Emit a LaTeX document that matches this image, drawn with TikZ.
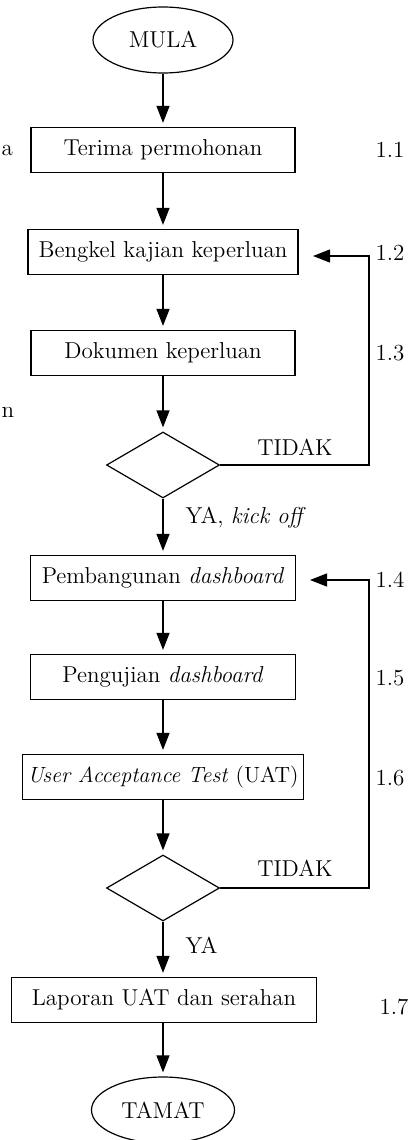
\documentclass[tikz,border=0pt]{standalone}
\usetikzlibrary{shapes.geometric, arrows.meta}
\tikzstyle{startstop} = [ellipse, minimum width=70pt, minimum height=33pt, inner sep=0, draw]
\tikzstyle{process} = [rectangle, minimum height=22.5pt, text centered, draw]
\tikzstyle{decision} = [diamond, minimum width=56.5pt, minimum height=33pt, inner sep=0, draw]
\tikzstyle{arrow} = [->, >={Triangle[length=8.5pt,width=6.5pt]}, shorten >=2pt]

\begin{document}
\begin{tikzpicture}[x=0.5pt, y=-0.5pt, line width=0.6pt, font=\fontsize{11.5}{14}\selectfont]
\useasboundingbox (0,0) rectangle (414,1140);

\node[startstop] (mula) at (163,40) {MULA};
\node[process, minimum width=132pt] (terima) at (163,150) {Terima permohonan};
\node[process, minimum width=135pt] (bengkel) at (163,252) {Bengkel kajian keperluan};
\node[process, minimum width=132pt] (dokumen) at (163,353) {Dokumen keperluan};
\node[decision] (semak1) at (163,465) {};
\node[process, minimum width=132.5pt] (bina) at (163,578) {Pembangunan \textit{dashboard}};
\node[process, minimum width=132.5pt] (uji) at (163,677) {Pengujian \textit{dashboard}};
\node[process, minimum width=140pt, inner xsep=2.5pt, font=\fontsize{11}{14}\selectfont] (uat) at (163,777) {\textit{User Acceptance Test} (UAT)};
\node[decision] (semak2) at (163,888) {};
\node[process, minimum width=152.5pt] (lapor) at (164,1000) {Laporan UAT dan serahan};
\node[startstop, minimum width=71.5pt] (tamat) at (163,1110) {TAMAT};

% aliran utama
\draw[arrow] (mula) -- (terima);
\draw[arrow] (terima) -- (bengkel);
\draw[arrow] (bengkel) -- (dokumen);
\draw[arrow] (dokumen) -- (semak1);
\draw[arrow] (semak1) -- (bina);
\draw[arrow] (bina) -- (uji);
\draw[arrow] (uji) -- (uat);
\draw[arrow] (uat) -- (semak2);
\draw[arrow] (semak2) -- (lapor.north -| semak2);
\draw[arrow] (lapor.south -| tamat) -- (tamat);

% gelung TIDAK
\coordinate (sudut1) at (369,256);
\coordinate (balik1) at (313,256);
\draw[arrow, shorten >=0pt] (semak1.east) -| (sudut1) -- (balik1);
\coordinate (sudut2) at (369,580);
\coordinate (balik2) at (310,580);
\draw[arrow, shorten >=0pt] (semak2.east) -| (sudut2) -- (balik2);

\node (tidak1) at (295,447) {TIDAK};
\node (tidak2) at (295,868) {TIDAK};
\node[anchor=west, inner sep=0] (ya1) at (185,518) {YA, \textit{kick off}};
\node[anchor=west, inner sep=0] (ya2) at (185,945) {YA};

\foreach \lbl/\y [count=\i] in {1.1/150, 1.2/253, 1.3/353, 1.4/580, 1.5/678, 1.6/778}
	\node (langkah\i) at (390,\y) {\lbl};
\node (langkah7) at (394,1007) {1.7};

\node[inner sep=0, anchor=west] (sisaA) at (1,150) {a};
\node[inner sep=0, anchor=west] (sisaB) at (1,412) {n};
\end{tikzpicture}
\end{document}
